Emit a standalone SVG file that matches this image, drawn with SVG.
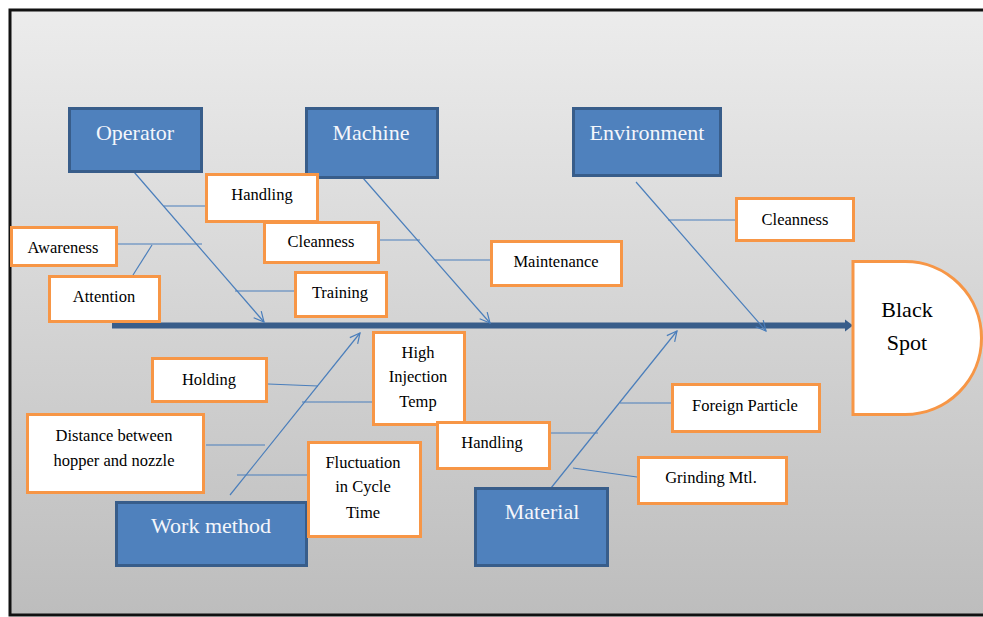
<svg xmlns="http://www.w3.org/2000/svg" width="983" height="617" viewBox="0 0 983 617">
<defs>
<linearGradient id="bg" x1="0" y1="0" x2="0" y2="1">
<stop offset="0" stop-color="#ececec"/>
<stop offset="1" stop-color="#bdbdbd"/>
</linearGradient>
<marker id="open" viewBox="0 0 12 12" refX="11" refY="6" markerWidth="12" markerHeight="12" markerUnits="userSpaceOnUse" orient="auto">
<path d="M1,1 L11,6 L1,11" fill="none" stroke="#4a7ebb" stroke-width="1.2"/>
</marker>
</defs>
<style>
.cat{fill:#4f81bd;stroke:#385d8a;stroke-width:3}
.cause{fill:#ffffff;stroke:#f79646;stroke-width:3}
.ct{font-family:"Liberation Serif","Times New Roman",serif;font-size:22px;fill:#f4f6fb;text-anchor:middle}
.t{font-family:"Liberation Serif","Times New Roman",serif;font-size:16.5px;fill:#000;text-anchor:middle}
.ht{font-family:"Liberation Serif","Times New Roman",serif;font-size:22px;fill:#000;text-anchor:middle}
.bone{stroke:#4a7ebb;stroke-width:1.2;fill:none}
.sub{stroke:#4a7ebb;stroke-width:1.2;fill:none}
</style>
<rect x="0" y="0" width="983" height="617" fill="#ffffff"/>
<rect x="10" y="10" width="990" height="605" fill="url(#bg)" stroke="#111" stroke-width="3"/>

<g id="connectors">
<line x1="112" y1="325.5" x2="846" y2="325.5" stroke="#385d8a" stroke-width="6"/>
<polygon points="845,319.5 853,325.5 845,331.5" fill="#385d8a"/>
<line class="bone" x1="134" y1="172" x2="264" y2="322" marker-end="url(#open)"/>
<line class="bone" x1="363" y1="178" x2="490" y2="323" marker-end="url(#open)"/>
<line class="bone" x1="636" y1="182" x2="766" y2="331" marker-end="url(#open)"/>
<line class="bone" x1="230" y1="495" x2="360" y2="333" marker-end="url(#open)"/>
<line class="bone" x1="551" y1="488" x2="677" y2="331" marker-end="url(#open)"/>
<line class="sub" x1="164" y1="206" x2="207" y2="206"/>
<line class="sub" x1="117" y1="244" x2="202" y2="244"/>
<line class="sub" x1="133" y1="275" x2="152" y2="245"/>
<line class="sub" x1="235" y1="291" x2="295" y2="291"/>
<line class="sub" x1="380" y1="240" x2="420" y2="240"/>
<line class="sub" x1="435" y1="260" x2="491" y2="260"/>
<line class="sub" x1="668" y1="220" x2="736" y2="220"/>
<line class="sub" x1="268" y1="384" x2="318" y2="386"/>
<line class="sub" x1="302" y1="402" x2="374" y2="402"/>
<line class="sub" x1="206" y1="445" x2="265" y2="445"/>
<line class="sub" x1="237" y1="475" x2="308" y2="475"/>
<line class="sub" x1="620" y1="403" x2="672" y2="403"/>
<line class="sub" x1="551" y1="433" x2="598" y2="433"/>
<line class="sub" x1="573" y1="468" x2="637" y2="477"/>
</g>

<g id="operator"><rect class="cat" x="69.5" y="108.5" width="132" height="63"/><text class="ct" x="135" y="140">Operator</text></g>
<g id="machine"><rect class="cat" x="306.5" y="108.5" width="131" height="69"/><text class="ct" x="371" y="140">Machine</text></g>
<g id="environment"><rect class="cat" x="573.5" y="108.5" width="147" height="67"/><text class="ct" x="647" y="140">Environment</text></g>
<g id="work-method"><rect class="cat" x="116.5" y="502.5" width="190" height="63"/><text class="ct" x="211" y="533">Work method</text></g>
<g id="material"><rect class="cat" x="475.5" y="488.5" width="132" height="77"/><text class="ct" x="542" y="519">Material</text></g>

<g id="black-spot"><path class="cause" d="M853,261.5 L905,261.5 A76.5,76.5 0 0 1 905,414.5 L853,414.5 Z"/><text class="ht" x="907" y="317">Black</text><text class="ht" x="907" y="350">Spot</text></g>

<g id="op-handling"><rect class="cause" x="206.5" y="174.5" width="111" height="47"/><text class="t" x="262" y="200">Handling</text></g>
<g id="mc-cleanness"><rect class="cause" x="264.5" y="222.5" width="114" height="40"/><text class="t" x="321" y="247">Cleanness</text></g>
<g id="op-awareness"><rect class="cause" x="11.5" y="227.5" width="105" height="38"/><text class="t" x="63" y="253">Awareness</text></g>
<g id="op-attention"><rect class="cause" x="49.5" y="276.5" width="110" height="45"/><text class="t" x="104" y="302">Attention</text></g>
<g id="op-training"><rect class="cause" x="295.5" y="272.5" width="91" height="44"/><text class="t" x="340" y="298">Training</text></g>
<g id="mc-maintenance"><rect class="cause" x="491.5" y="241.5" width="130" height="44"/><text class="t" x="556" y="267">Maintenance</text></g>
<g id="env-cleanness"><rect class="cause" x="736.5" y="198.5" width="117" height="42"/><text class="t" x="795" y="225">Cleanness</text></g>
<g id="wm-holding"><rect class="cause" x="152.5" y="358.5" width="114" height="43"/><text class="t" x="209" y="385">Holding</text></g>
<g id="wm-high-injection"><rect class="cause" x="373.5" y="332.5" width="91" height="92"/><text class="t" x="418" y="358">High</text><text class="t" x="418" y="382">Injection</text><text class="t" x="418" y="407">Temp</text></g>
<g id="wm-distance"><rect class="cause" x="27.5" y="414.5" width="176" height="78"/><text class="t" x="114" y="441">Distance between</text><text class="t" x="114" y="466">hopper and nozzle</text></g>
<g id="wm-fluctuation"><rect class="cause" x="308.5" y="442.5" width="112" height="94"/><text class="t" x="363" y="468">Fluctuation</text><text class="t" x="363" y="492">in Cycle</text><text class="t" x="363" y="518">Time</text></g>
<g id="mt-handling"><rect class="cause" x="437.5" y="422.5" width="112" height="46"/><text class="t" x="492" y="448">Handling</text></g>
<g id="mt-foreign"><rect class="cause" x="672.5" y="384.5" width="147" height="47"/><text class="t" x="745" y="411">Foreign Particle</text></g>
<g id="mt-grinding"><rect class="cause" x="638.5" y="457.5" width="148" height="46"/><text class="t" x="711" y="483">Grinding Mtl.</text></g>
</svg>
